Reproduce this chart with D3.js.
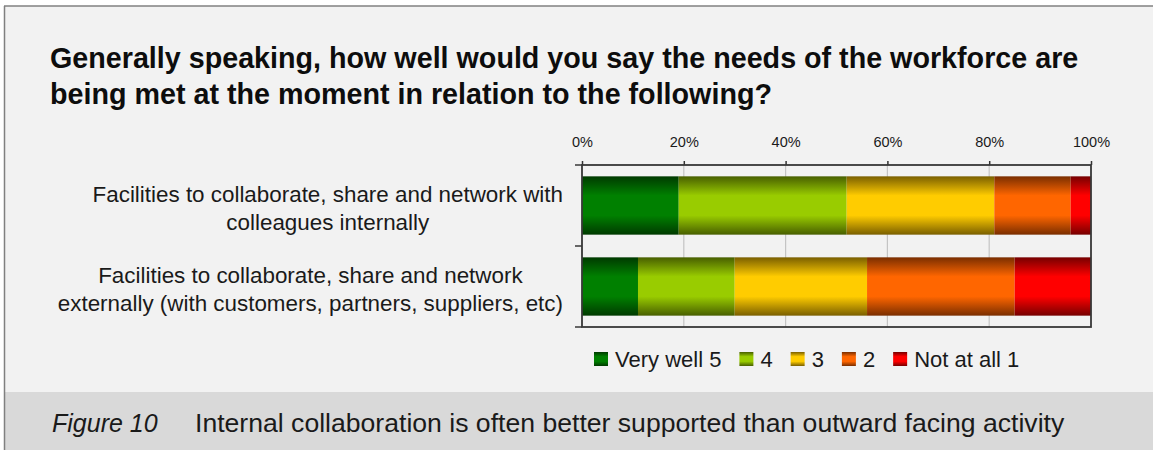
<!DOCTYPE html>
<html>
<head>
<meta charset="utf-8">
<script src="https://cdn.jsdelivr.net/npm/d3@7"></script>
<style>
  html, body { margin: 0; padding: 0; background: #ffffff; }
  svg { display: block; font-family: "Liberation Sans", Arial, Helvetica, sans-serif; }
</style>
</head>
<body>
<svg id="chart" width="1153" height="450"></svg>
<script>
// Survey responses, share of respondents per rating (percent)
const categories = [
  ["Facilities to collaborate, share and network with", "colleagues internally"],
  ["Facilities to collaborate, share and network", "externally (with customers, partners, suppliers, etc)"]
];
const seriesNames = ["Very well 5", "4", "3", "2", "Not at all 1"];
const internalValues = [19, 33, 29, 15, 4];
const externalValues = [11, 19, 26, 29, 15];
const tickValues = [0, 20, 40, 60, 80, 100];
const titleLines = [
  "Generally speaking, how well would you say the needs of the workforce are",
  "being met at the moment in relation to the following?"
];
const figureLabel = "Figure 10";
const figureCaption = "Internal collaboration is often better supported than outward facing activity";

// bright centre / dark edge for each rating band
const brightColors = ["#008000", "#99cc00", "#ffcc00", "#ff6600", "#ff0000"];
const darkColors   = ["#003a00", "#485f00", "#7a5f00", "#7a2e00", "#760000"];

const rows = [internalValues, externalValues];

const svg = d3.select("#chart");
const W = 1153, H = 450;

// gradients
const defs = svg.append("defs");
brightColors.forEach((c, i) => {
  const g = defs.append("linearGradient")
    .attr("id", "grad" + i)
    .attr("x1", 0).attr("y1", 0).attr("x2", 0).attr("y2", 1);
  g.append("stop").attr("offset", "0%").attr("stop-color", darkColors[i]);
  g.append("stop").attr("offset", "33%").attr("stop-color", c);
  g.append("stop").attr("offset", "67%").attr("stop-color", c);
  g.append("stop").attr("offset", "100%").attr("stop-color", darkColors[i]);
});

// panel background and frame
svg.append("rect").attr("x", 4.5).attr("y", 6).attr("width", W).attr("height", H)
  .attr("fill", "#f2f2f2");
svg.append("rect").attr("x", 5).attr("y", 392).attr("width", W).attr("height", H - 392)
  .attr("fill", "#d9d9d9");
svg.append("line").attr("x1", 4).attr("x2", W).attr("y1", 6).attr("y2", 6)
  .attr("stroke", "#808080").attr("stroke-width", 1.5);
svg.append("line").attr("x1", 4.5).attr("x2", 4.5).attr("y1", 6).attr("y2", H)
  .attr("stroke", "#808080").attr("stroke-width", 1.5);

// title
const title = svg.append("text")
  .attr("font-size", 28.7).attr("font-weight", "bold").attr("fill", "#0d0d0d");
titleLines.forEach((t, i) => {
  title.append("tspan").attr("x", 50).attr("y", 68 + i * 36).text(t);
});

// plot geometry
const plotLeft = 582, plotRight = 1091, plotTop = 165, plotBottom = 327;
const x = d3.scaleLinear().domain([0, 100]).range([plotLeft, plotRight]);
const y = d3.scaleBand().domain(d3.range(categories.length))
  .range([plotTop, plotBottom]).paddingInner(0.28).paddingOuter(0.14);

// vertical gridlines
svg.append("g").selectAll("line")
  .data(tickValues.filter(v => v > 0 && v < 100))
  .join("line")
  .attr("x1", d => x(d)).attr("x2", d => x(d))
  .attr("y1", plotTop).attr("y2", plotBottom)
  .attr("stroke", "#c4c4c4").attr("stroke-width", 1.2);

// stacked bars
rows.forEach((vals, r) => {
  let acc = 0;
  const segs = vals.map((v, i) => { const s = { i, x0: acc, x1: acc + v }; acc += v; return s; });
  svg.append("g").selectAll("rect")
    .data(segs)
    .join("rect")
    .attr("x", d => x(d.x0))
    .attr("width", d => x(d.x1) - x(d.x0))
    .attr("y", y(r))
    .attr("height", y.bandwidth())
    .attr("fill", d => `url(#grad${d.i})`);
});

// top percentage axis
const axis = svg.append("g")
  .attr("transform", `translate(0,${plotTop})`)
  .call(d3.axisTop(x).tickValues(tickValues).tickFormat(d => d + "%")
    .tickSizeInner(4).tickSizeOuter(0).tickPadding(14));
axis.select(".domain").remove();
axis.selectAll(".tick line").attr("stroke", "#333").attr("stroke-width", 1.5);
axis.selectAll(".tick text")
  .attr("font-family", "'Liberation Sans', Arial, sans-serif")
  .attr("font-size", 14.5).attr("fill", "#1a1a1a");

// plot frame
svg.append("rect")
  .attr("x", plotLeft).attr("y", plotTop)
  .attr("width", plotRight - plotLeft).attr("height", plotBottom - plotTop)
  .attr("fill", "none").attr("stroke", "#383838").attr("stroke-width", 1.8);

// category boundary ticks on the left edge
const bounds = d3.range(categories.length + 1).map(i => plotTop + i * y.step());
svg.append("g").selectAll("line")
  .data(bounds)
  .join("line")
  .attr("x1", plotLeft - 7).attr("x2", plotLeft)
  .attr("y1", d => d).attr("y2", d => d)
  .attr("stroke", "#383838").attr("stroke-width", 1.5);

// category labels: each block centred, block right edge aligned
const labelRight = 563;
categories.forEach((lines, r) => {
  const g = svg.append("text")
    .attr("font-size", 22.4).attr("fill", "#1a1a1a").attr("text-anchor", "middle");
  const spans = lines.map((t, i) =>
    g.append("tspan").attr("y", y(r) + y.bandwidth() / 2 - 4 + i * 28.5).text(t));
  const maxW = d3.max(spans, s => s.node().getComputedTextLength());
  spans.forEach(s => s.attr("x", labelRight - maxW / 2));
});

// legend
let lx = 594;
const legend = svg.append("g");
seriesNames.forEach((name, i) => {
  legend.append("rect")
    .attr("x", lx).attr("y", 352).attr("width", 14).attr("height", 14)
    .attr("fill", `url(#grad${i})`);
  const t = legend.append("text")
    .attr("x", lx + 21).attr("y", 367)
    .attr("font-size", 22).attr("fill", "#1a1a1a").text(name);
  lx += 21 + t.node().getComputedTextLength() + 18;
});

// figure caption
svg.append("text")
  .attr("x", 52).attr("y", 432)
  .attr("font-size", 25).attr("font-style", "italic").attr("fill", "#1a1a1a")
  .text(figureLabel);
svg.append("text")
  .attr("x", 195).attr("y", 432)
  .attr("font-size", 26.6).attr("fill", "#1a1a1a")
  .text(figureCaption);
</script>
</body>
</html>
